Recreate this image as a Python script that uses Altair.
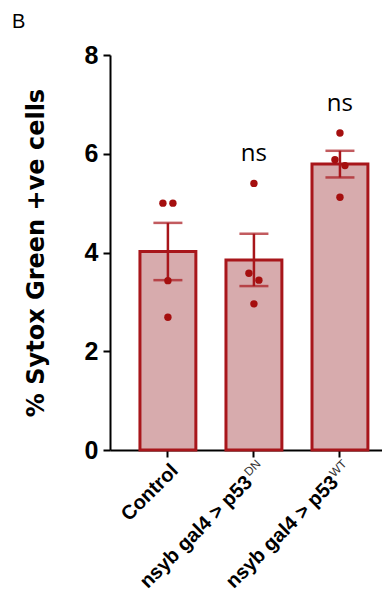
import altair as alt
import pandas as pd

groups = ["Control", "nsyb gal4 > p53 (DN)", "nsyb gal4 > p53 (WT)"]
labels = [
    "Control",
    "nsyb gal4 > p53\u00a0\u00a0\u00a0\u200b",
    "nsyb gal4 > p53\u00a0\u00a0\u00a0\u200b",
]
sups = ["", "DN", "WT"]
means = [4.02, 3.85, 5.79]
sems = [0.58, 0.53, 0.27]

point_groups = [groups[0]] * 4 + [groups[1]] * 4 + [groups[2]] * 4
point_values = [5.0, 5.0, 3.43, 2.69, 5.40, 3.58, 3.44, 2.96, 6.42, 5.88, 5.76, 5.12]
point_jitter = [-1, 1, 0, 0, 0, -1, 1, 0, 0, -1, 1, 0]

sig_groups = [groups[1], groups[2]]
sig_text = ["ns", "ns"]

FILL = "#D7ABAD"
DARK = "#A8161B"
PT = "#A50F0F"

bars_df = pd.DataFrame({"group": groups, "label": labels, "sup": sups, "mean": means, "sem": sems})
pts_df = pd.DataFrame({"group": point_groups, "value": point_values, "jit": point_jitter})

label_expr = " : ".join(
    f"datum.value == '{g}' ? '{l}'" for g, l in zip(groups, labels)
) + " : datum.value"

xscale = alt.Scale(domain=groups, paddingInner=0.35, paddingOuter=0.256, align=0.68)
yscale = alt.Scale(domain=[0, 8])

x_enc = alt.X(
    "group:N",
    scale=xscale,
    sort=groups,
    axis=alt.Axis(
        title=None,
        labelAngle=-45,
        labelExpr=label_expr,
        labelFont="Liberation Sans",
        labelFontSize=20,
        labelFontWeight="bold",
        labelColor="black",
        labelPadding=3,
        domainColor="black",
        domainWidth=2,
        tickColor="black",
        tickWidth=2,
        tickSize=7,
        labelLimit=300,
    ),
)

y_axis = alt.Axis(
    values=[0, 2, 4, 6, 8],
    title="% Sytox Green +ve cells",
    labelFont="Liberation Sans Narrow, Liberation Sans",
    labelFontSize=25,
    labelFontWeight="bold",
    labelColor="black",
    labelPadding=5,
    domainColor="black",
    domainWidth=2,
    tickColor="black",
    tickWidth=2,
    tickSize=7,
    titleFont="DejaVu Sans",
    titleFontSize=24,
    titleFontWeight="bold",
    titleColor="black",
    titlePadding=36,
    grid=False,
)

base = alt.Chart(bars_df)

bars = base.mark_bar(fill=FILL, stroke=DARK, strokeWidth=3).encode(
    x=x_enc,
    y=alt.Y("mean:Q", scale=yscale, axis=y_axis),
)

err = base.transform_calculate(
    lo="datum.mean - datum.sem", hi="datum.mean + datum.sem"
)

err_rule = err.mark_rule(color=DARK, strokeWidth=2.5).encode(
    x=alt.X("group:N", sort=groups),
    y=alt.Y("lo:Q"),
    y2="hi:Q",
)
cap_hi = err.mark_tick(color=DARK, thickness=2.5, size=29).encode(
    x=alt.X("group:N", sort=groups), y=alt.Y("hi:Q")
)
cap_lo = err.mark_tick(color=DARK, thickness=2.5, size=29).encode(
    x=alt.X("group:N", sort=groups), y=alt.Y("lo:Q")
)

point_layers = []
for j in (-1, 0, 1):
    point_layers.append(
        alt.Chart(pts_df)
        .transform_filter(f"datum.jit == {j}")
        .mark_circle(color=PT, opacity=1, size=55, xOffset=5 * j)
        .encode(x=alt.X("group:N", sort=groups), y=alt.Y("value:Q"))
    )

sig = (
    alt.Chart(pts_df)
    .transform_aggregate(top="max(value)", groupby=["group"])
    .transform_lookup(
        lookup="group",
        from_=alt.LookupData(pd.DataFrame({"group": sig_groups, "txt": sig_text}), "group", ["txt"]),
    )
    .transform_filter("datum.txt != null")
    .mark_text(font="Open Sans", fontSize=24, color="black", baseline="alphabetic", dy=-22)
    .encode(x=alt.X("group:N", sort=groups), y=alt.Y("top:Q"), text="txt:N")
)

sup_layer = (
    base.transform_filter("datum.sup != ''")
    .mark_text(
        font="Liberation Sans",
        fontSize=12,
        color="#333333",
        angle=315,
        align="right",
        baseline="alphabetic",
        dx=-5,
        dy=15.5,
    )
    .encode(x=alt.X("group:N", sort=groups), y=alt.datum(0), text="sup:N")
)

chart = (
    alt.layer(bars, err_rule, cap_hi, cap_lo, *point_layers, sig, sup_layer)
    .properties(
        width=272,
        height=395,
        padding={"left": 102, "top": 47, "right": 0, "bottom": 147},
        autosize=alt.AutoSizeParams(type="none"),
        title=alt.TitleParams(
            text="B",
            anchor="start",
            frame="group",
            dx=-98,
            offset=11,
            fontSize=20,
            fontWeight="normal",
            font="Liberation Sans",
            color="black",
        ),
    )
    .configure_view(stroke=None)
    .configure_axis(grid=False)
)

chart.save("out.html", embed_options={"renderer": "svg", "actions": False})
